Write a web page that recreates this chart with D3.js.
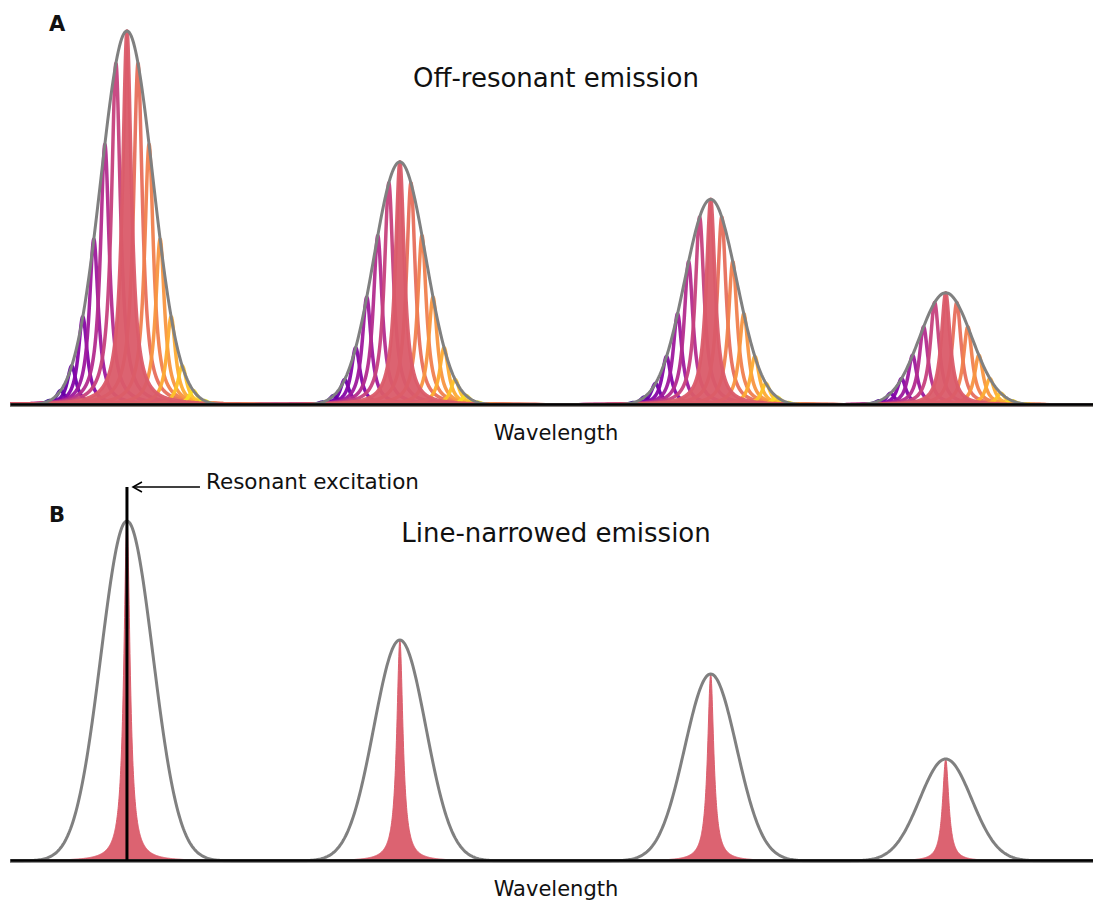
<!DOCTYPE html>
<html>
<head>
<meta charset="utf-8">
<script src="https://cdn.jsdelivr.net/npm/d3@7"></script>
<style>
  html, body { margin: 0; padding: 0; background: #fff; }
  svg { display: block; }
  text { font-family: "DejaVu Sans", Verdana, sans-serif; fill: #111; }
</style>
</head>
<body>
<svg id="chart" width="1094" height="902"></svg>
<script>
// Vibronic progression: band centres (arbitrary wavelength units) and relative intensities
const bandCenters = [10.8, 36.0, 64.7, 86.4];
const bandHeights = [1.0, 0.65, 0.55, 0.30];
// Inhomogeneous (ensemble) broadening: Gaussian sigma of each band
const inhomSigma = 2.4;
// Homogeneous linewidths (Lorentzian FWHM) of single sites
const homFWHM_A = 1.0;
const homFWHM_B = 0.7;
// Site offsets sampled across the inhomogeneous distribution (in units of siteSpacing)
const siteSteps = [-7, -6, -5, -4, -3, -2, -1, 0, 1, 2, 3, 4, 5, 6, 7];
const siteSpacing = 1.02;
// Colour position of each site along the plasma map
const siteColorT = [0.06, 0.13, 0.2, 0.27, 0.34, 0.41, 0.48, 0.57, 0.63, 0.69, 0.75, 0.81, 0.87, 0.93, 0.98];
// Laser line used for resonant excitation (in panel B)
const laserPosition = bandCenters[0];
const laserHeight = 1.1;

const panelTitles = ["Off-resonant emission", "Line-narrowed emission"];
const panelLetters = ["A", "B"];
const axisLabel = "Wavelength";
const annotationText = "Resonant excitation";

const svg = d3.select("#chart");
const x = d3.scaleLinear().domain([0, 100]).range([10, 1093]);
const yA = d3.scaleLinear().domain([0, 1]).range([405, 31]);
const yB = d3.scaleLinear().domain([0, 1]).range([861, 521]);

// clip marks to the plotting width
svg.append("defs").append("clipPath").attr("id", "plotClip")
  .append("rect").attr("x", x(0)).attr("y", 0).attr("width", x(100) - x(0)).attr("height", 902);

const gauss = (v, c, s) => Math.exp(-0.5 * ((v - c) / s) ** 2);
const lorentz = (v, c, fwhm) => {
  const g = fwhm / 2;
  return (g * g) / ((v - c) ** 2 + g * g);
};

// Sample grid: coarse across the panel, fine around a given centre
function grid(center, halfSpan, fine) {
  const pts = [];
  for (let v = 0; v < center - halfSpan; v += 0.5) pts.push(v);
  for (let v = center - halfSpan; v <= center + halfSpan; v += fine) pts.push(v);
  for (let v = Math.ceil((center + halfSpan) / 0.5) * 0.5; v <= 100; v += 0.5) pts.push(v);
  return pts;
}

const envColor = "#808080";
const fillColor = d3.interpolatePlasma(0.57);

function drawEnvelopes(g, y) {
  const line = d3.line().x(d => x(d[0])).y(d => y(d[1]));
  bandCenters.forEach((c, i) => {
    const pts = d3.range(0, 100.001, 0.1).map(v => [v, bandHeights[i] * gauss(v, c, inhomSigma)]);
    g.append("path")
      .attr("d", line(pts))
      .attr("fill", "none")
      .attr("stroke", envColor)
      .attr("stroke-width", 3);
  });
}

function drawBaseline(g, y) {
  g.append("g")
    .attr("transform", `translate(0,${y(0) - 1})`)
    .call(d3.axisBottom(x).ticks(0).tickSize(0))
    .call(a => a.select(".domain").attr("stroke", "#000").attr("stroke-width", 2.5))
    .call(a => a.selectAll("text").remove());
}

// ---------- Panel A: every site in the ensemble emits ----------
const gA = svg.append("g").attr("clip-path", "url(#plotClip)");
const lineA = d3.line().x(d => x(d[0])).y(d => yA(d[1]));
const areaA = d3.area().x(d => x(d[0])).y0(yA(0)).y1(d => yA(d[1]));

bandCenters.forEach((c, i) => {
  const sites = siteSteps.map((k, j) => {
    const pos = c + k * siteSpacing;
    return { k, pos, amp: bandHeights[i] * gauss(pos, c, inhomSigma), color: d3.interpolatePlasma(siteColorT[j]) };
  });
  sites.filter(s => s.k !== 0).forEach(s => {
    const pts = grid(s.pos, 8, 0.02).map(v => [v, s.amp * lorentz(v, s.pos, homFWHM_A)]);
    gA.append("path")
      .attr("d", lineA(pts))
      .attr("fill", "none")
      .attr("stroke", s.color)
      .attr("stroke-width", 3.5)
      .attr("stroke-linejoin", "round")
      .attr("stroke-opacity", 0.95);
  });
  const s0 = sites.find(s => s.k === 0);
  const pts0 = grid(s0.pos, 8, 0.02).map(v => [v, s0.amp * lorentz(v, s0.pos, homFWHM_A)]);
  gA.append("path")
    .attr("d", areaA(pts0))
    .attr("fill", fillColor)
    .attr("fill-opacity", 0.95)
    .attr("stroke", fillColor)
    .attr("stroke-width", 3.5)
    .attr("stroke-linejoin", "round")
    .attr("stroke-opacity", 0.95);
});
drawEnvelopes(gA, yA);
drawBaseline(gA, yA);

// ---------- Panel B: only the resonantly excited sites emit ----------
const gB = svg.append("g").attr("clip-path", "url(#plotClip)");
const areaB = d3.area().x(d => x(d[0])).y0(yB(0)).y1(d => yB(d[1]));
bandCenters.forEach((c, i) => {
  const pts = grid(c, 10, 0.02).map(v => [v, bandHeights[i] * lorentz(v, c, homFWHM_B)]);
  gB.append("path")
    .attr("d", areaB(pts))
    .attr("fill", fillColor)
    .attr("fill-opacity", 0.95)
    .attr("stroke", fillColor)
    .attr("stroke-width", 1)
    .attr("stroke-linejoin", "round")
    .attr("stroke-opacity", 0.95);
});
drawEnvelopes(gB, yB);
drawBaseline(gB, yB);

// laser line
gB.append("line")
  .attr("x1", x(laserPosition)).attr("x2", x(laserPosition))
  .attr("y1", yB(0)).attr("y2", yB(laserHeight))
  .attr("stroke", "#000").attr("stroke-width", 3);

// annotation arrow
const ay = yB(laserHeight);
const ax0 = x(laserPosition) + 6, ax1 = x(laserPosition) + 73;
svg.append("line")
  .attr("x1", ax1).attr("x2", ax0).attr("y1", ay).attr("y2", ay)
  .attr("stroke", "#000").attr("stroke-width", 1.5);
svg.append("path")
  .attr("d", `M${ax0 + 9},${ay - 5} L${ax0},${ay} L${ax0 + 9},${ay + 5}`)
  .attr("fill", "none").attr("stroke", "#000").attr("stroke-width", 1.5);
svg.append("text")
  .attr("x", ax1 + 6).attr("y", ay + 2)
  .attr("font-size", 21.5)
  .text(annotationText);

// ---------- Titles and labels ----------
const titleY = [87, 542];
const labelY = [440, 896];
const letterY = [31, 522];
[0, 1].forEach(p => {
  svg.append("text").attr("x", 556).attr("y", titleY[p])
    .attr("text-anchor", "middle").attr("font-size", 26).text(panelTitles[p]);
  svg.append("text").attr("x", 556).attr("y", labelY[p])
    .attr("text-anchor", "middle").attr("font-size", 21).text(axisLabel);
  svg.append("text").attr("x", 49).attr("y", letterY[p])
    .attr("font-size", 21).attr("font-weight", "bold").text(panelLetters[p]);
});
</script>
</body>
</html>
